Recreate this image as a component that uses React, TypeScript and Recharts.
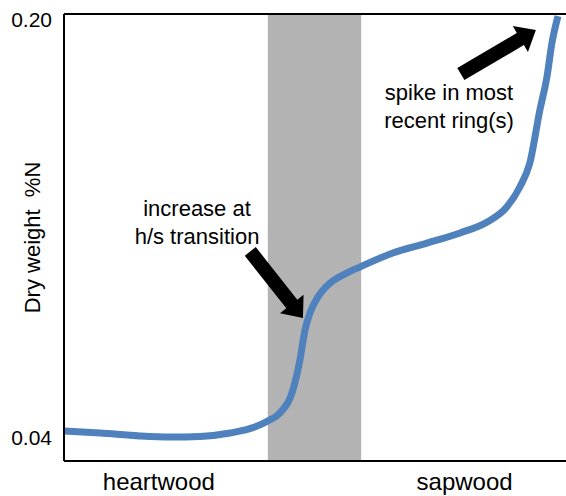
import { LineChart, Line, XAxis, YAxis, ReferenceArea, ReferenceDot, ReferenceLine, Label } from "recharts";

// position along the core (0 = pith side, 100 = bark) and dry weight %N
const ringPos = [0, 7.2, 15.1, 21.1, 27.1, 33.1, 38.0, 40.6, 43.0, 45.6, 47.0, 48.0, 49.0, 50.6, 53.0, 56.4, 59.0, 65.5, 72.3, 78.9, 84.3, 88.2, 90.8, 92.8, 94.8, 96.2, 97.2, 98.4];
const nitrogen = [0.0427, 0.0419, 0.0408, 0.0404, 0.0406, 0.0419, 0.0442, 0.0465, 0.0496, 0.0584, 0.0699, 0.0813, 0.0879, 0.094, 0.0993, 0.1032, 0.1055, 0.1108, 0.1146, 0.1185, 0.1227, 0.1284, 0.1361, 0.1453, 0.1656, 0.1782, 0.1912, 0.2015];

const yTicks = [0.04, 0.2];
const yDomain = [0.0312, 0.2023];
const zoneTicks = [18.9, 79.8];
const zoneLabels = ["heartwood", "sapwood"];
const transition = [40.6, 59.2];

const noteLines = [["increase at", "h/s transition"], ["spike in most", "recent ring(s)"]];
const noteX = [26.5, 76.7];
const noteY = [0.1227, 0.1671];

const arrowTipX = [47.6, 94.0];
const arrowTipY = [0.0859, 0.1962];
const arrowAngle = [51.7, -30.4];
const arrowLen = [85, 87];

const data = ringPos.map((x, i) => ({ x, n: nitrogen[i] }));

const FONT = "'Liberation Sans', Arial, Helvetica, sans-serif";
const BLUE = "#4F81BD";

function Arrow({ cx, cy, angle, len }: any) {
  const h = 18, sw = 7, hw = 15;
  const pts = [[-len, -sw], [-h, -sw], [-h, -hw], [0, 0], [-h, hw], [-h, sw], [-len, sw]]
    .map((p) => p.join(",")).join(" ");
  return <polygon points={pts} fill="#000" transform={`translate(${cx},${cy}) rotate(${angle})`} />;
}

function Note({ cx, cy, lines }: any) {
  return (
    <text x={cx} y={cy} textAnchor="middle" fontSize={22} fontFamily={FONT} fill="#000">
      {lines.map((l: string, i: number) => (
        <tspan key={i} x={cx} y={cy + (i - 0.5) * 28} dy="0.35em">{l}</tspan>
      ))}
    </text>
  );
}

function AxisTitle({ viewBox }: any) {
  const cy = viewBox.y + viewBox.height / 2;
  const x = viewBox.x + 40;
  return (
    <text x={x} y={cy} textAnchor="middle" fontSize={22} fontFamily={FONT} fill="#000"
      transform={`rotate(-90, ${x}, ${cy})`} style={{ whiteSpace: "pre" }}>
      Dry weight  %N
    </text>
  );
}

export default function App() {
  return (
    <div style={{ position: "absolute", left: 0, top: 0, background: "#fff" }}>
      <LineChart width={566} height={496} data={data} margin={{ top: 14, right: 0, left: 0, bottom: 0 }}>
        <ReferenceArea x1={transition[0]} x2={transition[1]} fill="#b3b3b3" fillOpacity={1} stroke="none" ifOverflow="hidden" />
        <ReferenceLine y={yDomain[1]} stroke="#000" strokeWidth={2} />
        <XAxis type="number" dataKey="x" domain={[0, 100]} ticks={zoneTicks}
          tickFormatter={(_v: number, i: number) => zoneLabels[i]} height={35}
          axisLine={{ stroke: "#000", strokeWidth: 2 }} tickLine={false} tickSize={0} tickMargin={12}
          tick={{ fontSize: 24, fill: "#000", fontFamily: FONT }} interval={0} />
        <YAxis type="number" domain={yDomain} ticks={yTicks} width={64}
          tickFormatter={(v: number) => v.toFixed(2)} allowDataOverflow
          axisLine={{ stroke: "#000", strokeWidth: 2 }} tickLine={false} tickSize={0} tickMargin={12}
          tick={{ fontSize: 21, fill: "#000", fontFamily: FONT }}>
          <Label content={<AxisTitle />} />
        </YAxis>
        <Line type="monotone" dataKey="n" stroke={BLUE} strokeWidth={7} dot={false} activeDot={false}
          isAnimationActive={false} />
        {arrowTipX.map((x, i) => (
          <ReferenceDot key={"a" + i} x={x} y={arrowTipY[i]} r={1} ifOverflow="visible"
            shape={(p: any) => <Arrow cx={p.cx} cy={p.cy} angle={arrowAngle[i]} len={arrowLen[i]} />} />
        ))}
        {noteX.map((x, i) => (
          <ReferenceDot key={"n" + i} x={x} y={noteY[i]} r={1} ifOverflow="visible"
            shape={(p: any) => <Note cx={p.cx} cy={p.cy} lines={noteLines[i]} />} />
        ))}
      </LineChart>
    </div>
  );
}
